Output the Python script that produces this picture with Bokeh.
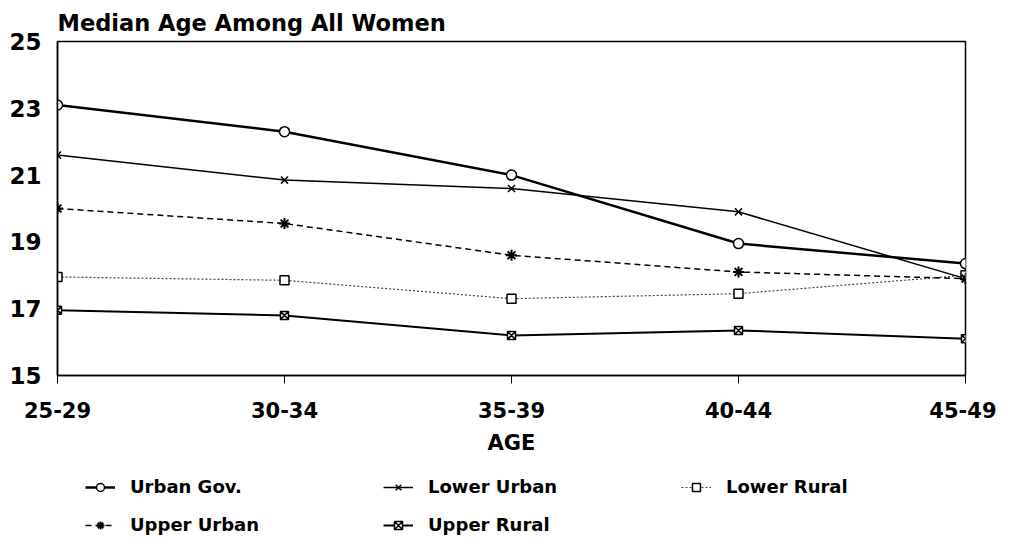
from bokeh.plotting import figure
from bokeh.layouts import column
from bokeh.models import Range1d, FixedTicker, Legend, LegendItem
from bokeh.embed import file_html
from bokeh.resources import INLINE

age_groups = ["25-29", "30-34", "35-39", "40-44", "45-49"]
urban_gov = [23.1, 22.3, 21.0, 18.95, 18.35]
lower_urban = [21.6, 20.85, 20.6, 19.9, 17.9]
lower_rural = [17.95, 17.85, 17.3, 17.45, 18.0]
upper_urban = [20.0, 19.55, 18.6, 18.1, 17.9]
upper_rural = [16.95, 16.8, 16.2, 16.35, 16.1]
y_ticks = [15, 17, 19, 21, 23, 25]

FONT = "DejaVu Sans"
x = list(range(len(age_groups)))

p = figure(width=996, height=460, output_backend="svg", toolbar_location=None,
           x_range=Range1d(0, len(age_groups) - 1), y_range=Range1d(15, 25),
           min_border_left=57, min_border_right=31, min_border_top=41, min_border_bottom=85,
           title="Median Age Among All Women")
p.title.text_font = FONT
p.title.text_font_style = "bold"
p.title.text_font_size = "22.5px"
p.title.text_color = "black"
p.title.align = "left"
p.title.standoff = 12

p.xgrid.visible = False
p.ygrid.visible = False
p.outline_line_color = "black"
p.outline_line_width = 1.5
p.background_fill_color = "white"
p.border_fill_color = "white"

xa = p.xaxis[0]
xa.ticker = FixedTicker(ticks=x)
xa.major_label_overrides = {i: lab for i, lab in enumerate(age_groups)}
xa.major_label_text_font = FONT
xa.major_label_text_font_style = "bold"
xa.major_label_text_font_size = "21px"
xa.major_label_text_color = "black"
xa.major_tick_out = 8
xa.major_tick_in = 0
xa.minor_tick_line_color = None
xa.major_label_standoff = 18
xa.axis_line_width = 1.5
xa.axis_label = "AGE"
xa.axis_label_text_font = FONT
xa.axis_label_text_font_style = "bold"
xa.axis_label_text_font_size = "21px"
xa.axis_label_text_color = "black"
xa.axis_label_standoff = 10

ya = p.yaxis[0]
ya.ticker = FixedTicker(ticks=y_ticks)
ya.major_label_text_font = FONT
ya.major_label_text_font_style = "bold"
ya.major_label_text_font_size = "23px"
ya.major_label_text_color = "black"
ya.major_tick_line_color = None
ya.minor_tick_line_color = None
ya.major_label_standoff = 10
ya.axis_line_width = 1.5

series = [
    ("Urban Gov.", urban_gov, dict(line_width=2.5), dict(marker="circle", size=10, fill_color="white", line_width=1.5)),
    ("Lower Urban", lower_urban, dict(line_width=1.5), dict(marker="x", size=10, line_width=1.5)),
    ("Lower Rural", lower_rural, dict(line_width=1.2, line_dash="2 2", line_color="#444444"), dict(marker="square", size=9, fill_color="white", line_width=1.5)),
    ("Upper Urban", upper_urban, dict(line_width=1.5, line_dash="6 4"), dict(marker="asterisk", size=11, line_width=2)),
    ("Upper Rural", upper_rural, dict(line_width=2.0), dict(marker="square_x", size=8, fill_color="white", line_width=1.5)),
]

# legend panel: an axis-less figure below the chart; its copies of the series lie outside its range
lg = figure(width=996, height=75, output_backend="svg", toolbar_location=None,
            x_range=Range1d(0, 1), y_range=Range1d(0, 1),
            min_border_left=0, min_border_right=0, min_border_top=0, min_border_bottom=0)
lg.axis.visible = False
lg.grid.visible = False
lg.outline_line_color = None
lg.background_fill_color = "white"
lg.border_fill_color = "white"

items = {}
for name, vals, lkw, mkw in series:
    lc = lkw.pop("line_color", "black")
    p.line(x, vals, line_color=lc, **lkw)
    p.scatter(x, vals, line_color="black", **mkw)
    lr = lg.line(x, vals, line_color=lc, **lkw)
    sr = lg.scatter(x, vals, line_color="black", **mkw)
    items[name] = LegendItem(label=name, renderers=[lr, sr])

# column-major fill -> reorder so rows read: Urban Gov., Lower Urban, Lower Rural / Upper Urban, Upper Rural
order = ["Urban Gov.", "Upper Urban", "Lower Urban", "Upper Rural", "Lower Rural"]
legend = Legend(items=[items[k] for k in order], ncols=3, location=(28, 0),
                glyph_width=30, glyph_height=20, label_height=20, label_width=236,
                label_standoff=15, spacing=17, padding=0, margin=0,
                label_text_font=FONT, label_text_font_style="bold", label_text_font_size="18px",
                label_text_color="black",
                border_line_color=None, background_fill_alpha=0)
lg.add_layout(legend, "center")

layout = column(p, lg, spacing=0)
open("out.html", "w").write(file_html(layout, INLINE))
